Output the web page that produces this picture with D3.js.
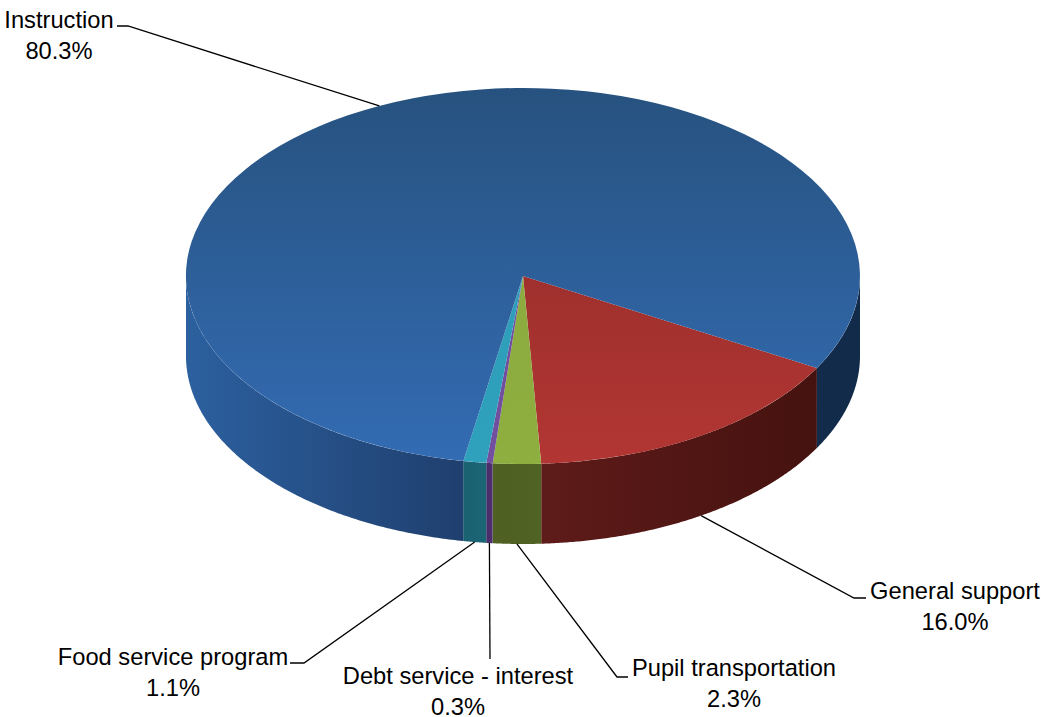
<!DOCTYPE html>
<html>
<head>
<meta charset="utf-8">
<style>
  html, body { margin: 0; padding: 0; background: #fff; }
  svg { display: block; }
  text { font-family: "Liberation Sans", Arial, sans-serif; font-size: 23.7px; fill: #000; }
</style>
<script src="https://cdn.jsdelivr.net/npm/d3@7/dist/d3.min.js"></script>
</head>
<body>
<svg id="chart" width="1044" height="717"></svg>
<script>
// Expense categories, clockwise from the lower right of the pie
const categories = ["General support", "Pupil transportation", "Debt service - interest", "Food service program", "Instruction"];
const shares = [16.0, 2.3, 0.3, 1.1, 80.3];

// Slice colours: top face and side wall
const topLight = ["#b23633", "#8fae40", "#724f9f", "#2fa1bd", "#336cb4"];
const topDark = ["#8c2a27", "#8aa83d", "#6d4c98", "#2d9ab6", "#27527f"];
const wallLight = ["#5e1b19", "#4f6324", "#4f2f70", "#1b6675", "#2c609f"];
const wallDark = ["#45120f", "#4f6122", "#4a2c6a", "#1a6171", "#1f3f6e"];
const farWallColor = "#132b4a";

// Label anchor, text baseline and leader elbow for each category
const labelX = [955, 734, 458, 173, 59];
const labelY = [599, 676, 684, 665, 28];
const elbowX = [[854, 866], [617, 628], [490, 490], [304, 290], [128, 117]];
const elbowY = [[598, 598], [677, 677], [659, 659], [663, 663], [26, 26]];

const cx = 523, cy = 276, rx = 337, ry = 188, depth = 80;
const startAngle = 119.3 * Math.PI / 180;

const svg = d3.select("#chart");
const defs = svg.append("defs");

const pie = d3.pie().sort(null).value(d => d)
  .startAngle(startAngle).endAngle(startAngle + 2 * Math.PI);
const slices = pie(shares);

const rimX = a => cx + rx * Math.sin(a);
const rimY = a => cy - ry * Math.cos(a);

// Vertical shading across the top face, in the squashed unit space
slices.forEach((s, i) => {
  const g = defs.append("linearGradient").attr("id", "top" + i)
    .attr("gradientUnits", "userSpaceOnUse")
    .attr("x1", 0).attr("x2", 0).attr("y1", -1).attr("y2", 1);
  g.append("stop").attr("offset", 0).attr("stop-color", topDark[i]);
  g.append("stop").attr("offset", 1).attr("stop-color", topLight[i]);
});

// Side walls: only the part of the rim facing the viewer is drawn
const wallArea = d3.area().x(rimX).y0(rimY).y1(a => rimY(a) + depth);
const front0 = Math.PI / 2, front1 = 3 * Math.PI / 2, turn = 2 * Math.PI;
const wallGroup = svg.append("g");

slices.forEach((s, i) => {
  const spans = [];
  for (const shift of [0, -turn]) {
    const a0 = Math.max(s.startAngle + shift, front0);
    const a1 = Math.min(s.endAngle + shift, front1);
    if (a1 > a0) spans.push({ a0, a1, far: shift !== 0 });
  }
  spans.forEach(({ a0, a1, far }, j) => {
    const samples = d3.range(0, 161).map(t => a0 + (a1 - a0) * t / 160);
    let fill = farWallColor;
    if (!far) {
      const id = `wall${i}-${j}`;
      const g = defs.append("linearGradient").attr("id", id)
        .attr("gradientUnits", "userSpaceOnUse")
        .attr("x1", d3.min(samples, rimX)).attr("x2", d3.max(samples, rimX))
        .attr("y1", 0).attr("y2", 0);
      const leftColor = i === 4 || i === 0 ? wallLight[i] : wallDark[i];
      const rightColor = i === 4 || i === 0 ? wallDark[i] : wallLight[i];
      g.append("stop").attr("offset", 0).attr("stop-color", leftColor);
      g.append("stop").attr("offset", 1).attr("stop-color", rightColor);
      fill = `url(#${id})`;
    }
    wallGroup.append("path").attr("d", wallArea(samples)).attr("fill", fill);
  });
});

// Top face: a circular pie squashed into an ellipse
const arc = d3.arc().innerRadius(0).outerRadius(1);
svg.append("g")
  .attr("transform", `translate(${cx},${cy}) scale(${rx},${ry})`)
  .selectAll("path").data(slices).join("path")
  .attr("d", arc)
  .attr("fill", (d, i) => `url(#top${i})`);

// Leader lines start at the rim, at the middle of each slice
const leader = d3.line();
slices.forEach((s, i) => {
  const mid = (s.startAngle + s.endAngle) / 2;
  const onFront = Math.cos(mid) < 0;
  const start = [rimX(mid), rimY(mid) + (onFront ? depth : 0)];
  const pts = [start, [elbowX[i][0], elbowY[i][0]], [elbowX[i][1], elbowY[i][1]]];
  svg.append("path").attr("d", leader(pts))
    .attr("fill", "none").attr("stroke", "#000").attr("stroke-width", 1.3);
});

// Two-line labels: category name, then its share
const lineGap = 31;
const labels = svg.append("g").attr("text-anchor", "middle");
categories.forEach((name, i) => {
  labels.append("text").attr("x", labelX[i]).attr("y", labelY[i]).text(name);
  labels.append("text").attr("x", labelX[i]).attr("y", labelY[i] + lineGap)
    .text(d3.format(".1f")(shares[i]) + "%");
});
</script>
</body>
</html>
